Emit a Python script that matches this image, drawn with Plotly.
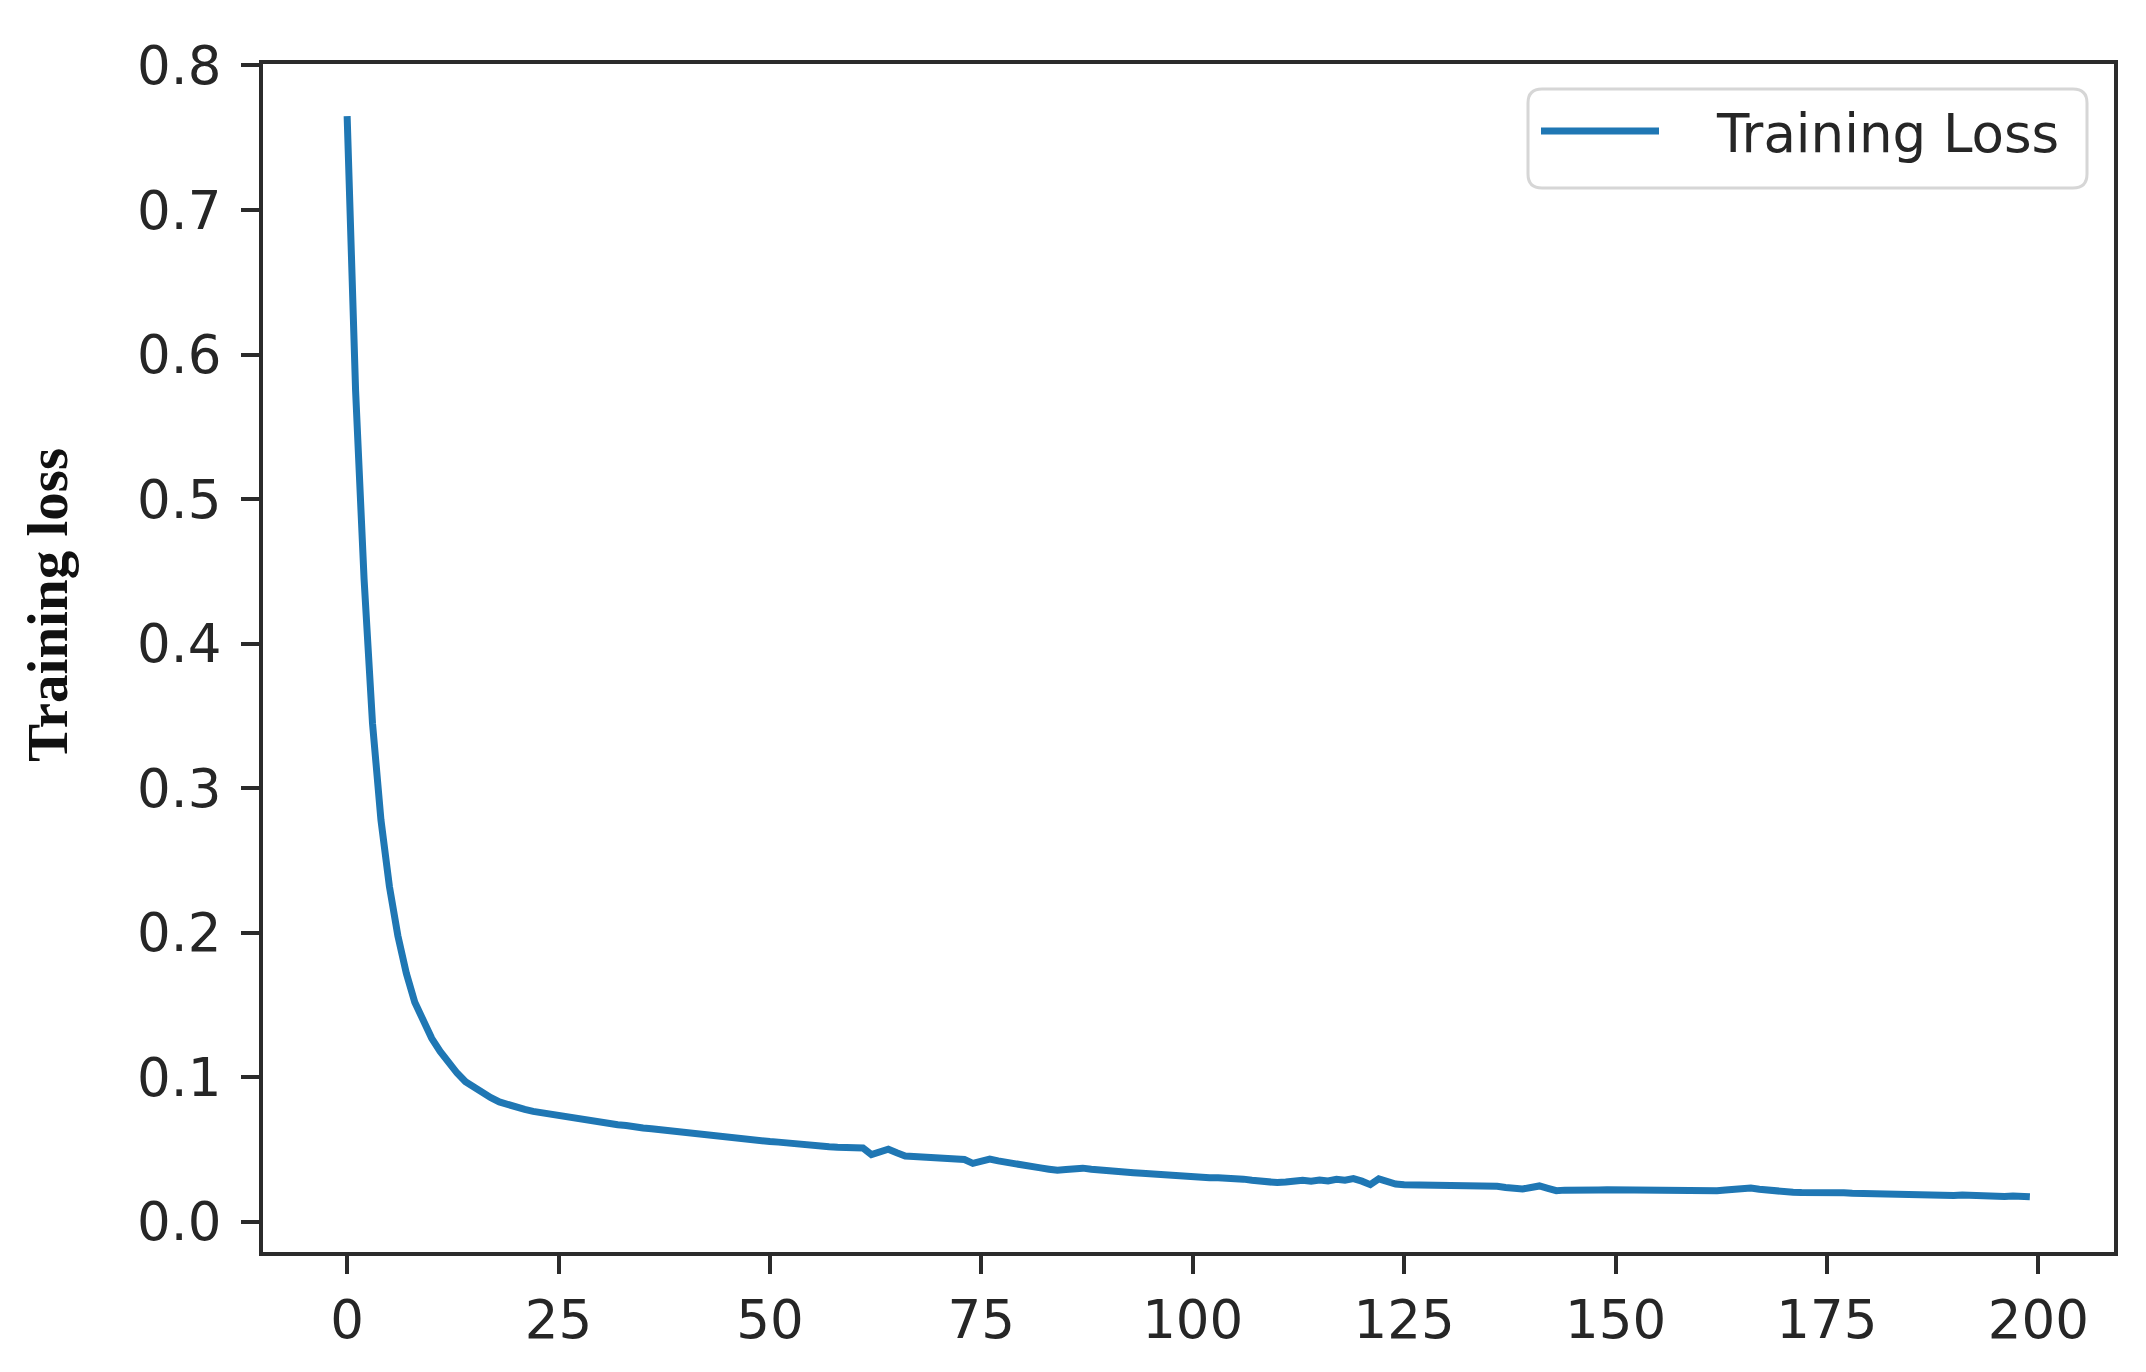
import plotly.graph_objects as go

epochs = list(range(200))
training_loss = [
    0.765, 0.575, 0.445, 0.345, 0.278, 0.232, 0.198, 0.172, 0.152, 0.138,
    0.127, 0.118, 0.110, 0.103, 0.097, 0.093, 0.089, 0.086, 0.083, 0.081,
    0.0790, 0.0778, 0.0765, 0.0755, 0.0742, 0.0731, 0.0722, 0.0712, 0.0705, 0.0695,
    0.0688, 0.0680, 0.0672, 0.0667, 0.0655, 0.0650, 0.0645, 0.0638, 0.0630, 0.0625,
    0.0615, 0.0608, 0.0613, 0.0600, 0.0594, 0.0588, 0.0582, 0.0576, 0.0570, 0.0563,
    0.0556, 0.0552, 0.0545, 0.0540, 0.0534, 0.0530, 0.0525, 0.0520, 0.0516, 0.0512,
    0.0514, 0.0511, 0.0466, 0.0488, 0.0503, 0.0478, 0.0456, 0.0452, 0.0448, 0.0446,
    0.0444, 0.0441, 0.0438, 0.0432, 0.0405, 0.0420, 0.0434, 0.0422, 0.0410, 0.0400,
    0.0390, 0.0383, 0.0374, 0.0365, 0.0357, 0.0362, 0.0370, 0.0372, 0.0365, 0.0358,
    0.0352, 0.0348, 0.0345, 0.0341, 0.0337, 0.0332, 0.0326, 0.0321, 0.0317, 0.0313,
    0.0310, 0.0308, 0.0306, 0.0305, 0.0304, 0.0302, 0.0296, 0.0288, 0.0280, 0.0274,
    0.0272, 0.0276, 0.0283, 0.0288, 0.0281, 0.0290, 0.0284, 0.0295, 0.0289, 0.0300,
    0.0282, 0.0258, 0.0298, 0.0275, 0.0262, 0.0257, 0.0256, 0.0255, 0.0256, 0.0254,
    0.0255, 0.0253, 0.0256, 0.0254, 0.0257, 0.0255, 0.0246, 0.0238, 0.0232, 0.0228,
    0.0238, 0.0249, 0.0232, 0.0216, 0.0220, 0.0223, 0.0222, 0.0224, 0.0221, 0.0222,
    0.0221, 0.0222, 0.0220, 0.0218, 0.0216, 0.0214, 0.0213, 0.0212, 0.0214, 0.0212,
    0.0209, 0.0212, 0.0216, 0.0221, 0.0228, 0.0232, 0.0235, 0.0226, 0.0218, 0.0212,
    0.0208, 0.0205, 0.0203, 0.0204, 0.0206, 0.0207, 0.0205, 0.0201, 0.0198, 0.0196,
    0.0195, 0.0194, 0.0192, 0.0193, 0.0190, 0.0188, 0.0186, 0.0189, 0.0187, 0.0184,
    0.0183, 0.0186, 0.0182, 0.0180, 0.0183, 0.0178, 0.0176, 0.0180, 0.0177, 0.0174,
]
x_ticks = [0, 25, 50, 75, 100, 125, 150, 175, 200]
y_ticks = [0.0, 0.1, 0.2, 0.3, 0.4, 0.5, 0.6, 0.7, 0.8]
y_tick_labels = ["0.0", "0.1", "0.2", "0.3", "0.4", "0.5", "0.6", "0.7", "0.8"]

# the page body has an 8px margin, so the figure is shrunk to keep the page at 2146x1372
OFF = 8
W, H = 2146 - 2 * OFF, 1372 - 2 * OFF
L, R, T, B = 263 - OFF, W - (2114 - OFF), 64 - OFF, H - (1252 - OFF)
pw = W - L - R
ph = H - T - B

def px_x(p):  # screen pixel -> paper x
    return (p - OFF - L) / pw

def px_y(p):  # screen pixel -> paper y
    return (H - B - (p - OFF)) / ph

tick_font = dict(family="DejaVu Sans", size=53, color="#262626")
axis_col = "#2b2b2b"

fig = go.Figure()
fig.add_trace(go.Scatter(
    x=epochs, y=training_loss, mode="lines", name="\u2003Training Loss",
    line=dict(color="#1f77b4", width=7),
))

# rounded legend frame (matplotlib style)
x0, x1, y0, y1 = px_x(1528), px_x(2087), px_y(188), px_y(89)
rx, ry = 14 / pw, 14 / ph
frame = (
    f"M{x0+rx},{y0} L{x1-rx},{y0} Q{x1},{y0} {x1},{y0+ry} "
    f"L{x1},{y1-ry} Q{x1},{y1} {x1-rx},{y1} "
    f"L{x0+rx},{y1} Q{x0},{y1} {x0},{y1-ry} "
    f"L{x0},{y0+ry} Q{x0},{y0} {x0+rx},{y0} Z"
)
fig.add_shape(
    type="path", xref="paper", yref="paper", path=frame,
    line=dict(color="#d6d6d6", width=3), fillcolor="white", layer="above",
)

fig.update_layout(
    width=W, height=H,
    margin=dict(l=L, r=R, t=T, b=B),
    paper_bgcolor="white", plot_bgcolor="white",
    showlegend=True,
    legend=dict(
        x=px_x(2065), xanchor="right",
        y=px_y(90), yanchor="top",
        bgcolor="rgba(0,0,0,0)", borderwidth=0,
        font=dict(family="DejaVu Sans", size=53, color="#262626"),
        itemwidth=118,
    ),
    xaxis=dict(
        range=[-9.95, 208.95],
        tickmode="array", tickvals=x_ticks,
        ticks="outside", ticklen=18, tickwidth=4, tickcolor=axis_col,
        showline=True, linecolor=axis_col, linewidth=4, mirror=True,
        showgrid=False, zeroline=False,
        tickfont=tick_font, ticklabelstandoff=0,
    ),
    yaxis=dict(
        range=[-0.0208, 0.801],
        tickmode="array", tickvals=y_ticks, ticktext=y_tick_labels,
        ticks="outside", ticklen=18, tickwidth=4, tickcolor=axis_col,
        showline=True, linecolor=axis_col, linewidth=4, mirror=True,
        showgrid=False, zeroline=False,
        tickfont=tick_font, ticklabelstandoff=9,
    ),
    annotations=[dict(
        text="<b>Training loss</b>", xref="paper", yref="paper",
        x=px_x(47), y=px_y(605), xanchor="center", yanchor="middle",
        textangle=-90, showarrow=False,
        font=dict(family="Liberation Serif", size=57, color="#111111"),
    )],
)

fig.write_html("out.html")
